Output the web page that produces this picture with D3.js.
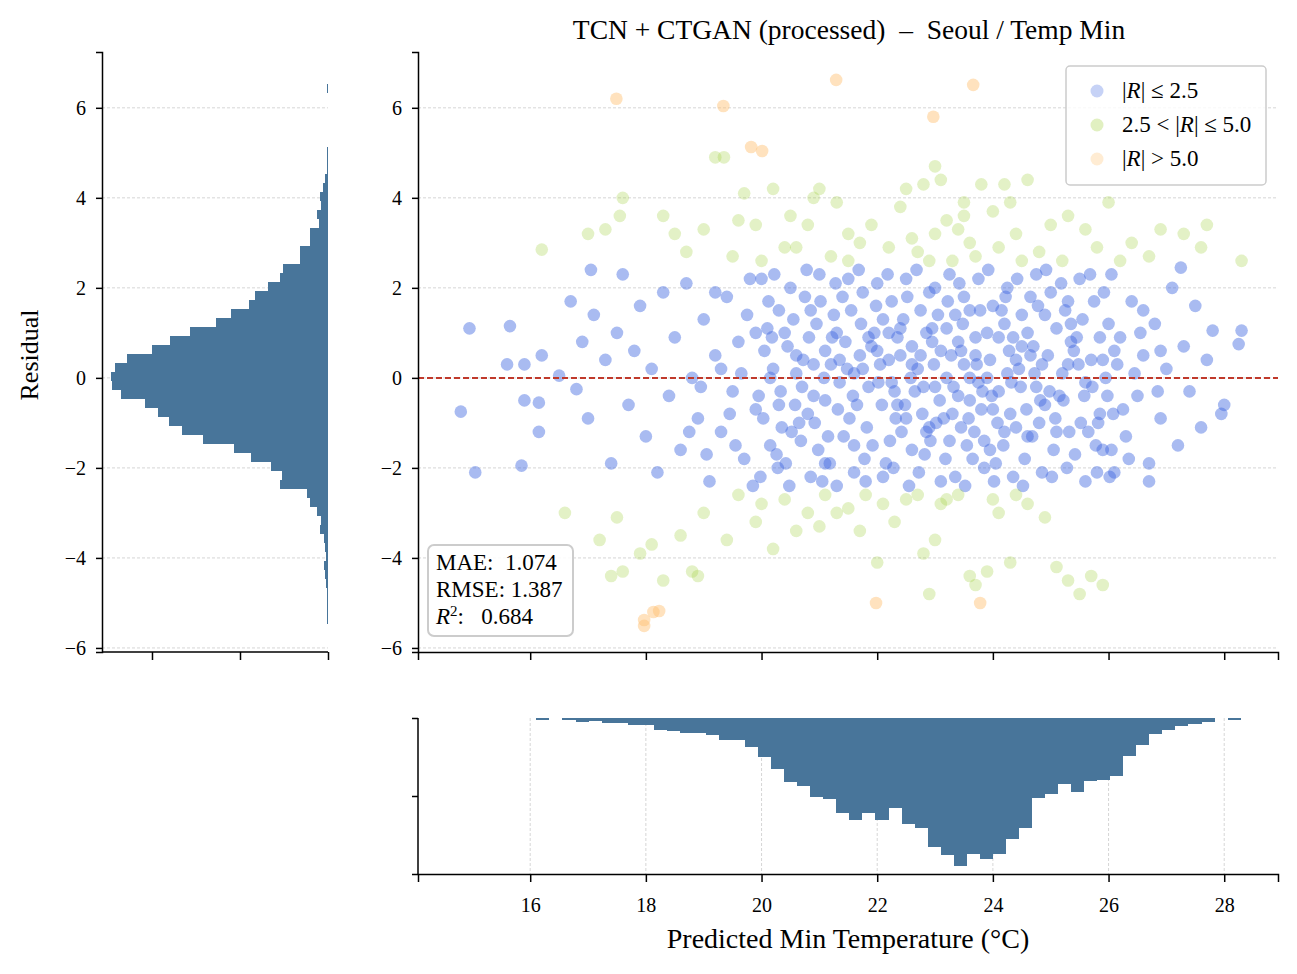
<!DOCTYPE html>
<html><head><meta charset="utf-8">
<script src="https://cdn.jsdelivr.net/npm/d3@7"></script>
<style>body{margin:0;background:#fff}svg{font-family:"Liberation Serif","DejaVu Serif",serif}</style>
</head><body><svg width="1297" height="974"></svg>
<script>
// residual histogram: lower edge of first bin, bin width, counts (bottom -> top)
var resBinStart = -5.47, resBinWidth = 0.2;
var resCounts = [1,1,1,1,2,3,5,2,3,5,9,8,13,20,24,54,52,65,87,107,142,166,181,193,208,235,245,
  247,242,228,200,180,157,127,110,90,83,68,54,51,32,32,21,20,10,13,8,9,6,3,1,1,1,0,0,0,0,0,0,1];
// predicted histogram
var predBinStart = 16.107, predBinWidth = 0.2255;
var predCounts = [5,0,5,11,9,15,15,20,20,36,39,44,44,50,65,65,86,116,152,191,203,236,241,284,305,284,
  305,269,317,329,386,410,443,407,422,407,362,329,239,227,197,221,188,185,173,113,80,47,35,23,17,11,0,5];

var bluePts = [[14.8,-0.75],[14.95,1.1],[15.05,-2.1],[15.6,0.3],[15.65,1.15],[15.85,-1.95],[15.9,0.3],[15.9,-0.5],
 [16.15,-0.55],[16.2,0.5],[16.15,-1.2],[16.5,0.05],[16.7,1.7],[16.8,-0.25],[16.9,0.8],[17.0,-0.9],[17.05,2.4],
 [17.1,1.4],[17.3,0.4],[17.4,-1.9],[17.5,1.0],[17.6,2.3],[17.7,-0.6],[17.8,0.6],[17.9,1.6],[18.0,-1.3],[18.1,0.2],
 [18.2,-2.1],[18.3,1.9],[18.4,-0.4],[18.5,0.9],[18.6,-1.6],[18.7,2.1],[18.8,0.0],[18.9,-0.9],[19.0,1.3],[19.1,-2.3],
 [19.2,0.5],[19.3,-1.2],[19.4,1.8],[19.5,-0.3],[19.6,0.8],[19.7,-1.8],[19.8,2.2],[19.9,-0.7],[19.3,0.2],[19.55,-1.5],
 [19.75,1.4],[18.95,-0.2],[19.85,-2.4],[19.2,1.9],[19.45,-0.8],[19.65,0.1],[19.9,1.0],[18.75,-1.2],[19.05,-1.7],
 [28.3,1.05],[28.25,0.75],[28.0,-0.6],[27.95,-0.8],[27.8,1.05],[27.7,0.4],[27.6,-1.1],[27.5,1.6],[27.4,-0.3],
 [27.3,0.7],[27.2,-1.5],[27.1,2.0],[27.0,0.2],[26.9,-0.9],[26.8,1.2],[26.7,-1.9],[26.6,0.5],[26.5,-0.4],[26.4,1.7],
 [26.3,-1.3],[26.2,0.9],[26.1,-2.1],[26.05,2.3],[27.25,2.45],[26.7,-2.3],[25.9,-1.6],[26.45,0.1],[26.85,-0.3],
 [26.25,-0.7],[26.55,1.0],[26.15,0.3],[26.35,-1.8],[26.6,1.5],[26.9,0.6],
 [20.0,2.2],[20.1,1.1],[19.95,-0.4],[20.15,-1.5],[20.05,0.6],[19.98,-2.2],[20.12,1.7],[20.03,-0.9],
 [20.3,1.5],[20.2,0.2],[20.35,-1.1],[20.22,2.3],[20.28,-2.0],[20.18,0.9],[20.33,-0.3],[20.26,-1.7],
 [20.5,2.0],[20.45,0.7],[20.58,-0.6],[20.42,-1.9],[20.55,1.3],[20.48,-2.4],[20.6,0.1],[20.52,-1.2],
 [20.75,1.8],[20.7,-0.2],[20.82,0.9],[20.68,-1.4],[20.78,2.4],[20.85,-2.2],[20.72,0.4],[20.8,-0.8],
 [21.0,2.3],[20.95,1.2],[21.08,0.0],[20.92,-1.0],[21.05,-2.3],[21.1,0.6],[20.98,-1.6],[21.02,1.7],
 [21.25,1.4],[21.2,0.3],[21.32,-0.7],[21.18,-1.9],[21.28,2.1],[21.35,-0.1],[21.22,0.9],[21.3,-2.4],
 [21.5,2.2],[21.45,0.8],[21.58,-0.4],[21.42,-1.3],[21.55,1.5],[21.6,-2.1],[21.48,0.2],[21.52,-0.9],
 [21.75,1.9],[21.7,0.5],[21.82,-1.1],[21.68,2.4],[21.78,-1.8],[21.85,-0.2],[21.72,1.2],[21.8,-2.3],
 [22.0,2.1],[21.95,1.0],[22.08,-0.6],[21.92,-1.5],[22.05,0.3],[22.1,-2.2],[21.98,1.6],[22.02,-0.1],
 [22.25,1.7],[22.2,0.4],[22.32,-0.9],[22.18,2.3],[22.28,-2.0],[22.35,0.9],[22.22,-1.4],[22.3,-0.3],
 [22.5,2.2],[22.45,1.3],[22.58,0.0],[22.42,-1.2],[22.55,-2.4],[22.6,0.7],[22.48,-0.6],[22.52,1.8],
 [22.75,1.5],[22.7,0.2],[22.82,-1.7],[22.68,2.4],[22.78,-0.8],[22.85,1.0],[22.72,-2.1],[22.8,-0.2],
 [23.0,2.0],[22.95,0.8],[23.08,-0.5],[22.92,-1.4],[23.05,1.4],[23.1,-2.3],[22.98,0.3],[23.02,-1.0],
 [23.25,2.3],[23.2,1.1],[23.32,-0.2],[23.18,-1.8],[23.28,0.5],[23.35,-2.2],[23.22,1.7],[23.3,-0.8],
 [23.5,1.8],[23.45,0.6],[23.58,-0.9],[23.42,2.1],[23.55,-1.5],[23.6,0.0],[23.48,1.2],[23.52,-2.4],
 [23.75,2.2],[23.7,0.9],[23.82,-0.3],[23.68,-1.2],[23.78,1.5],[23.85,-2.0],[23.72,0.3],[23.8,-0.7],
 [24.0,1.6],[23.95,0.4],[24.08,-1.0],[23.92,2.4],[24.05,-1.9],[24.1,0.9],[23.98,-0.4],[24.02,-2.3],
 [24.25,2.0],[24.2,1.2],[24.32,-0.1],[24.18,-1.5],[24.28,0.6],[24.35,-2.2],[24.22,1.8],[24.3,-0.8],
 [24.5,1.4],[24.45,0.2],[24.58,-0.7],[24.42,2.2],[24.55,-1.8],[24.6,1.0],[24.48,-0.2],[24.52,-2.4],
 [24.75,2.3],[24.7,0.7],[24.82,-0.5],[24.68,-1.3],[24.78,1.6],[24.85,-2.1],[24.72,0.1],[24.8,-1.0],
 [25.0,1.9],[24.95,0.5],[25.08,-0.9],[24.92,2.4],[25.05,-1.6],[25.1,1.1],[24.98,-0.3],[25.02,-2.2],
 [25.25,1.5],[25.2,0.1],[25.32,-1.2],[25.18,2.1],[25.28,-2.0],[25.35,0.8],[25.22,-0.5],[25.3,1.7],
 [25.5,2.2],[25.45,0.9],[25.58,-0.4],[25.42,-1.7],[25.55,1.3],[25.6,-2.3],[25.48,0.3],[25.52,-1.0],
 [25.75,1.7],[25.7,0.4],[25.82,-1.0],[25.68,2.3],[25.78,-1.5],[25.85,0.9],[25.72,-0.2],[25.8,-2.1],
 [26.0,1.2],[25.95,0.0],[26.08,-0.8],[25.92,1.9],[26.05,-1.6],[26.1,0.6],[25.98,-0.4],[26.02,-2.2],
 [22.4,0.5],[23.4,-0.4],[24.4,0.4],[21.6,0.1],[22.9,-1.1],[23.9,1.0],[24.9,-0.6],[21.1,-0.5],[22.6,-1.6],[23.6,1.5],
 [20.15,0.0],[20.4,1.0],[20.65,-1.0],[20.9,0.3],[21.15,-1.3],[21.4,1.8],[21.65,-0.6],[21.9,0.7],[22.15,-1.9],
 [22.4,1.1],[22.65,-0.3],[22.9,1.9],[23.15,-0.9],[23.4,0.8],[23.65,-1.8],[23.9,0.0],[24.15,1.5],[24.4,-1.1],
 [24.65,0.5],[24.9,1.4],[25.15,-0.4],[25.4,0.6],[25.65,-1.2],[25.9,0.4],[20.3,-0.6],[20.6,0.5],[20.85,1.5],
 [21.1,-1.9],[21.35,0.4],[21.6,-1.5],[21.85,0.9],[22.1,1.3],[22.35,-0.6],[22.6,0.3],[22.85,-1.2],[23.1,0.6],
 [23.35,1.4],[23.6,-0.5],[23.85,-1.4],[24.1,-0.3],[24.35,0.9],[24.6,-1.3],[24.85,0.3],[25.1,-1.2],[25.35,1.2],
 [25.6,-0.1],[25.85,-0.8],[22.0,0.6],[22.5,-0.9],[23.0,-0.2],[23.5,0.3],[24.0,-0.7],[24.5,0.7],[23.25,-1.4],
 [23.75,-0.1],[24.25,0.1],[22.75,0.5],[22.25,-0.1],[21.75,0.2],[24.75,-0.2],[23.2,0.0],[23.7,0.5],[24.2,-1.2],
 [22.2,1.0],[21.3,1.0],[25.3,0.3],[20.9,-0.4],[23.45,-1.1],[24.65,1.8],[22.95,1.1],[23.95,-1.6]];

var greenPts = [[16.2,2.85],[17.0,3.2],[17.3,3.3],[17.6,4.0],[17.55,3.6],[18.3,3.6],[18.5,3.2],[19.0,3.3],[19.2,4.9],
 [19.35,4.9],[19.6,3.5],[19.7,4.1],[19.9,3.4],[20.2,4.2],[20.5,3.6],[20.6,2.9],[20.8,3.4],[20.9,4.0],[21.0,4.2],
 [21.3,3.9],[21.5,3.2],[21.7,3.0],[21.9,3.4],[22.2,2.9],[22.4,3.8],[22.5,4.2],[22.8,4.3],[23.0,4.7],[23.1,4.4],
 [23.2,3.5],[23.4,3.3],[23.5,3.9],[23.6,3.0],[23.8,4.3],[24.0,3.7],[24.2,4.3],[24.4,3.2],[24.6,4.4],[24.8,2.8],
 [25.0,3.4],[25.3,3.6],[25.6,3.3],[25.8,2.9],[26.0,3.9],[26.4,3.0],[26.7,2.7],[26.9,3.3],[27.3,3.2],[27.6,2.9],
 [27.7,3.4],[28.3,2.6],[22.9,2.6],[23.3,2.6],[21.2,2.7],[20.0,2.6],[24.5,2.6],[25.2,2.6],[19.5,2.7],[18.7,2.8],
 [22.6,3.1],[23.7,2.7],[24.1,2.9],[20.4,2.9],[26.2,2.6],[23.0,3.2],[23.5,3.6],[24.3,3.9],[22.7,2.8],[21.5,2.6],
 [17.2,-3.6],[16.6,-3.0],[17.5,-3.1],[17.4,-4.4],[17.6,-4.3],[17.9,-3.9],[18.1,-3.7],[18.3,-4.5],[18.6,-3.5],
 [18.8,-4.3],[18.9,-4.4],[19.0,-3.0],[19.4,-3.6],[19.6,-2.6],[19.9,-3.2],[20.2,-3.8],[20.4,-2.7],[20.6,-3.4],
 [20.8,-3.0],[21.0,-3.3],[21.3,-3.0],[21.5,-2.9],[21.7,-3.4],[22.0,-4.1],[22.1,-2.8],[22.3,-3.2],[22.5,-2.7],
 [22.8,-3.9],[23.0,-3.6],[23.1,-2.8],[23.4,-2.6],[23.6,-4.4],[23.7,-4.6],[23.9,-4.3],[24.1,-3.0],[24.3,-4.1],
 [24.6,-2.8],[24.9,-3.1],[25.1,-4.2],[25.3,-4.5],[25.5,-4.8],[25.7,-4.4],[25.9,-4.6],[22.9,-4.8],[21.8,-2.6],
 [24.0,-2.7],[20.0,-2.8],[23.2,-2.7],[22.7,-2.6],[24.4,-2.6],[21.1,-2.6]];

var orangePts = [[17.49,6.2],[19.34,6.04],[21.29,6.62],[23.66,6.51],[22.97,5.8],[19.82,5.13],[20.01,5.04],
 [17.97,-5.38],[17.97,-5.51],[18.13,-5.2],[18.23,-5.18],[21.98,-5.0],[23.78,-5.0]];

var xTicks = [16,18,20,22,24,26,28];
var yTicks = [-6,-4,-2,0,2,4,6];
var stats = [["MAE:","1.074"],["RMSE:","1.387"],["R2:","0.684"]];

var blue = "#4169e1", green = "#9acd32", orange = "#ffbf6e", histCol = "#48759a";
var svg = d3.select("svg");
var serif = '"Liberation Serif","DejaVu Serif",serif';

var main = {l:418, r:1278, t:52, b:652};
var x = d3.scaleLinear().domain([14.06,28.93]).range([main.l, main.r]);
var y = d3.scaleLinear().domain([-6.09,7.24]).range([main.b, main.t]);

function grid(g, ticks, horiz, x1, x2, sc) {
  g.selectAll(null).data(ticks).enter().append("line")
    .attr(horiz?"x1":"y1", x1).attr(horiz?"x2":"y2", x2)
    .attr(horiz?"y1":"x1", sc).attr(horiz?"y2":"x2", sc)
    .attr("stroke","#ccc").attr("stroke-width",0.8).attr("stroke-dasharray","3,2");
}
function styleTicks(g) {
  g.attr("font-family", serif).attr("font-size", 20);
  g.selectAll("text").attr("fill","#000");
}

// main scatter
var gm = svg.append("g");
grid(gm, yTicks, true, main.l, main.r, y);
function dots(data, col, op) {
  gm.append("g").selectAll("circle").data(data).enter().append("circle")
    .attr("cx", function(d){return x(d[0]);}).attr("cy", function(d){return y(d[1]);})
    .attr("r", 6.3).attr("fill", col).attr("fill-opacity", op);
}
dots(bluePts, blue, 0.45);
dots(greenPts, green, 0.28);
dots(orangePts, orange, 0.45);
gm.append("line").attr("x1",main.l).attr("x2",main.r).attr("y1",y(0)).attr("y2",y(0))
  .attr("stroke","#c0392b").attr("stroke-width",2).attr("stroke-dasharray","6,3");

svg.append("g").attr("transform","translate("+main.l+",0)")
  .call(d3.axisLeft(y).tickValues(yTicks).tickSize(6).tickPadding(10).tickFormat(d3.format("")))
  .call(styleTicks);
svg.append("g").attr("transform","translate(0,"+main.b+")")
  .call(d3.axisBottom(x).tickValues(xTicks).tickSize(8).tickFormat(""));

svg.append("text").attr("x",849).attr("y",39).attr("text-anchor","middle").style("font-size","27.5px")
  .attr("xml:space","preserve").text("TCN + CTGAN (processed)  \u2013  Seoul / Temp Min");

// legend
var leg = svg.append("g").attr("transform","translate(1066,66)");
leg.append("rect").attr("width",200).attr("height",119).attr("rx",4).attr("fill","#fff").attr("fill-opacity",0.8)
  .attr("stroke","#ccc").attr("stroke-width",1.5);
var legItems = [{c:blue,t:["|",{i:"R"},"| \u2264 2.5"]},{c:green,t:["2.5 < |",{i:"R"},"| \u2264 5.0"]},{c:orange,t:["|",{i:"R"},"| > 5.0"]}];
legItems.forEach(function(it,i){
  leg.append("circle").attr("cx",31).attr("cy",25+i*34).attr("r",6.5).attr("fill",it.c).attr("fill-opacity",0.3);
  var t = leg.append("text").attr("x",56).attr("y",32+i*34).style("font-size","23px");
  it.t.forEach(function(p){
    if (typeof p === "string") t.append("tspan").text(p);
    else t.append("tspan").style("font-style","italic").text(p.i);
  });
});

// stats box
var sb = svg.append("g").attr("transform","translate(428,545)");
sb.append("rect").attr("width",145).attr("height",91).attr("rx",6).attr("fill","#fff").attr("fill-opacity",0.85)
  .attr("stroke","#ccc").attr("stroke-width",2);
stats.forEach(function(s,i){
  var t = sb.append("text").attr("x",8).attr("y",25+i*27).style("font-size","23px").attr("xml:space","preserve");
  if (i === 2) {
    t.append("tspan").style("font-style","italic").text("R");
    t.append("tspan").attr("dy",-8).style("font-size","15px").text("2");
    t.append("tspan").attr("dy",8).text(":   " + s[1]);
  } else t.text(s[0] + (i===0 ? "  " : " ") + s[1]);
});

// left histogram
var lh = {l:102, r:328};
var cx = d3.scaleLinear().domain([0,256.8]).range([lh.r, lh.l]);
var gl = svg.append("g");
grid(gl, yTicks, true, lh.l, lh.r, y);
gl.selectAll("rect").data(resCounts).enter().append("rect")
  .attr("x", function(d){return cx(d);}).attr("width", function(d){return lh.r - cx(d);})
  .attr("y", function(d,i){return y(resBinStart + (i+1)*resBinWidth);})
  .attr("height", function(d,i){return y(resBinStart + i*resBinWidth) - y(resBinStart + (i+1)*resBinWidth);})
  .attr("fill", histCol).attr("shape-rendering","crispEdges");
svg.append("g").attr("transform","translate("+lh.l+",0)")
  .call(d3.axisLeft(y).tickValues(yTicks).tickSize(6).tickPadding(10).tickFormat(d3.format("")))
  .call(styleTicks);
svg.append("g").attr("transform","translate(0,"+main.b+")")
  .call(d3.axisBottom(cx).tickValues([0,100,200]).tickSize(8).tickFormat(""))
  .call(function(g){g.select(".domain").attr("d","M"+lh.l+",0H"+lh.r);});
svg.append("text").attr("transform","translate(38,355) rotate(-90)").attr("text-anchor","middle")
  .style("font-size","26px").text("Residual");

// bottom histogram
var bh = {t:718, b:874};
var cy = d3.scaleLinear().domain([0,466]).range([bh.t, bh.b]);
var gb = svg.append("g");
grid(gb, xTicks, false, bh.t, bh.b, x);
gb.selectAll("rect").data(predCounts).enter().append("rect")
  .attr("x", function(d,i){return x(predBinStart + i*predBinWidth);})
  .attr("width", function(d,i){return x(predBinStart + (i+1)*predBinWidth) - x(predBinStart + i*predBinWidth);})
  .attr("y", bh.t).attr("height", function(d){return cy(d) - bh.t;})
  .attr("fill", histCol).attr("shape-rendering","crispEdges");
svg.append("g").attr("transform","translate(0,"+bh.b+")")
  .call(d3.axisBottom(x).tickValues(xTicks).tickSize(8).tickPadding(16).tickFormat(d3.format("")))
  .call(styleTicks);
svg.append("g").attr("transform","translate("+main.l+",0)")
  .call(d3.axisLeft(cy).tickValues([0,233,466]).tickSize(6).tickFormat(""))
  .call(function(g){g.select(".domain").attr("d","M0,"+bh.t+"V"+bh.b);});
svg.append("text").attr("x",848).attr("y",948).attr("text-anchor","middle").style("font-size","28px")
  .text("Predicted Min Temperature (\u00b0C)");

svg.selectAll(".domain").attr("stroke-width",1.5);
svg.selectAll(".tick line").attr("stroke-width",1.5);
</script></body></html>
